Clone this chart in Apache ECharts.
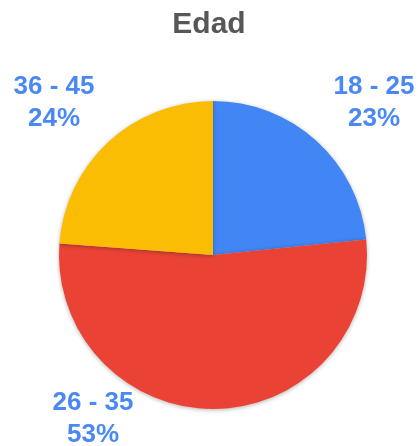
<!DOCTYPE html>
<html>
<head>
<meta charset="utf-8">
<script src="https://cdn.jsdelivr.net/npm/echarts@6/dist/echarts.min.js"></script>
<style>
html, body { margin: 0; padding: 0; background: #fff; }
#chart { width: 418px; height: 446px; }
</style>
</head>
<body>
<div id="chart"></div>
<script>
// datos
const categories = ['18 - 25', '26 - 35', '36 - 45'];
const values = [23.4, 52.8, 23.8];
const colors = ['#4285F4', '#EA4335', '#FBBC04'];

// label anchor points (center of the two-line block)
const labelPos = [[374, 103], [93, 419], [54, 103]];

const chart = echarts.init(document.getElementById('chart'));
chart.setOption({
    title: {
        text: 'Edad',
        left: 'center',
        top: 5,
        textStyle: {
            fontFamily: 'Arial',
            fontSize: 30,
            fontWeight: 'bold',
            color: '#575757'
        }
    },
    series: [{
        type: 'pie',
        center: [213, 255],
        radius: 154,
        startAngle: 90,
        clockwise: true,
        animation: false,
        percentPrecision: 0,
        itemStyle: {
            shadowBlur: 4,
            shadowOffsetY: 1,
            shadowColor: 'rgba(0,0,0,0.3)'
        },
        label: {
            show: true,
            position: 'outside',
            formatter: '{b}\n{d}%',
            fontFamily: 'Arial',
            fontSize: 26,
            fontWeight: 'bold',
            lineHeight: 32,
            color: '#4A89F3',
            align: 'center',
            overflow: 'none',
            width: 120
        },
        labelLine: { show: false },
        labelLayout: function (params) {
            const p = labelPos[params.dataIndex];
            return { x: p[0], y: p[1], align: 'center', verticalAlign: 'middle' };
        },
        emphasis: { disabled: true },
        data: categories.map((c, i) => ({
            name: c,
            value: values[i],
            itemStyle: { color: colors[i] }
        }))
    }]
});
</script>
</body>
</html>
